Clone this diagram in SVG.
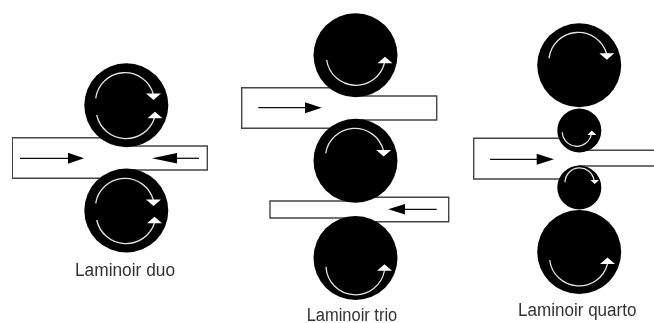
<svg xmlns="http://www.w3.org/2000/svg" width="654" height="323" viewBox="0 0 654 323">
<style>
.roller{fill:#000}
.strip{fill:#fff;stroke:#444;stroke-width:1.4}
.spin{fill:none;stroke:#e4e4e4;stroke-width:1.3}
.head{fill:#fff}
.feed{stroke:#111;stroke-width:1.3;fill:none}
.tip{fill:#000}
.label{font-family:"Liberation Sans",Arial,sans-serif;font-size:18px;fill:#333}
</style>
<defs>
<filter id="soft" x="0" y="0" width="100%" height="100%"><feGaussianBlur stdDeviation="0.35"/></filter>
<polygon id="down" class="head" points="-7.5,0 7.5,0 0,6.5"/>
<polygon id="up" class="head" points="-7.5,0 7.5,0 0,-6.5"/>
</defs>
<rect width="654" height="323" fill="#fff"/>
<g filter="url(#soft)">
<g id="strips">
<path id="strip-duo" class="strip" d="M126 137.7H12.3V178.3H126V170H207.3V146H126Z"/>
<path id="strip-trio-1" class="strip" d="M356 87.7H241.7V128.3H356V120H436.7V96H356Z"/>
<path id="strip-trio-2" class="strip" d="M356 201H270V218H356V221.7H448.7V197.3H356Z"/>
<path id="strip-quarto" class="strip" d="M579 138.3H473.7V179H579V166H660V150.3H579Z"/>
</g>
<g id="duo-top">
<circle class="roller" cx="126.3" cy="105.3" r="42"/>
<path class="spin" d="M95.7 98.3A29.5 29.5 0 0 1 153.3 94"/>
<path class="spin" d="M96.7 115A30 30 0 0 0 154.5 118"/>
<use href="#down" x="153.5" y="93.5"/>
<use href="#up" x="155" y="118.3"/>
</g>
<g id="duo-bottom">
<circle class="roller" cx="126.3" cy="210.5" r="42"/>
<path class="spin" d="M95.7 203.3A29.5 29.5 0 0 1 153.3 200"/>
<path class="spin" d="M96.7 220A30 30 0 0 0 154.5 223"/>
<use href="#down" x="153.5" y="199.5"/>
<use href="#up" x="154.5" y="223.3"/>
</g>
<g id="trio-top">
<circle class="roller" cx="355.5" cy="55.3" r="42"/>
<path class="spin" d="M326.7 60A29.5 29.5 0 0 0 384.5 63"/>
<use href="#up" x="385" y="63.3"/>
</g>
<g id="trio-middle">
<circle class="roller" cx="355.5" cy="160.7" r="42"/>
<path class="spin" d="M325.7 153.3A29.5 29.5 0 0 1 383.3 150"/>
<use href="#down" x="383.7" y="150"/>
</g>
<g id="trio-bottom">
<circle class="roller" cx="355.5" cy="258" r="42"/>
<path class="spin" d="M326 266.7A29.5 29.5 0 0 0 384.5 270.5"/>
<use href="#up" x="384.5" y="270.7"/>
</g>
<g id="quarto-top">
<circle class="roller" cx="579.2" cy="65.3" r="42"/>
<path class="spin" d="M549 58.3A29.5 29.5 0 0 1 606.7 54"/>
<use href="#down" x="606.8" y="53.3"/>
</g>
<g id="quarto-upper-small">
<circle class="roller" cx="579.3" cy="130.5" r="22"/>
<path class="spin" d="M562.3 132.3A14.6 14.6 0 0 0 591.3 134"/>
<polygon class="head" points="587.3,135 596.3,135 591.8,130.5"/>
</g>
<g id="quarto-lower-small">
<circle class="roller" cx="579.3" cy="187.5" r="22"/>
<path class="spin" d="M565 182.3A14.6 14.6 0 0 1 594 180"/>
<polygon class="head" points="590.5,180 599,180 594.7,184"/>
</g>
<g id="quarto-bottom">
<circle class="roller" cx="579.2" cy="252" r="42"/>
<path class="spin" d="M549.7 260A29.5 29.5 0 0 0 607.5 264"/>
<use href="#up" x="607.5" y="264"/>
</g>
<g id="connectors">
<path class="feed" d="M20 158.3H70"/><polygon class="tip" points="68,152.8 84,158.3 68,163.8"/>
<path class="feed" d="M199 158.3H175"/><polygon class="tip" points="177,153 152,158.3 177,163.6"/>
<path class="feed" d="M258.3 107.7H307"/><polygon class="tip" points="305,102.2 321.7,107.7 305,113.2"/>
<path class="feed" d="M436.7 209.3H403"/><polygon class="tip" points="405,204 388.3,209.3 405,214.6"/>
<path class="feed" d="M490 159.3H538"/><polygon class="tip" points="536.7,153.8 554,159.3 536.7,164.8"/>
</g>
<g id="labels">
<text class="label" x="75" y="276" textLength="100" lengthAdjust="spacingAndGlyphs">Laminoir duo</text>
<text class="label" x="306.7" y="320.5" textLength="90.5" lengthAdjust="spacingAndGlyphs">Laminoir trio</text>
<text class="label" x="518" y="316" textLength="118.5" lengthAdjust="spacingAndGlyphs">Laminoir quarto</text>
</g>
</g>
</svg>
